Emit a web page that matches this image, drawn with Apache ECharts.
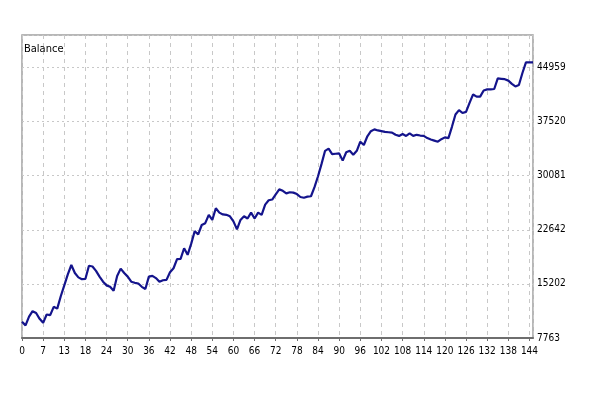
<!DOCTYPE html>
<html>
<head>
<meta charset="utf-8">
<script src="https://cdn.jsdelivr.net/npm/echarts@6/dist/echarts.min.js"></script>
<style>
html,body{margin:0;padding:0;background:#fff;}
#c{width:600px;height:400px;}
</style>
</head>
<body>
<div id="c"></div>
<script>
var titleText = 'Balance';
var xTickLabels = [0,7,13,18,24,30,36,42,48,54,60,66,72,78,84,90,96,102,108,114,120,126,132,138,144];
var yTickLabels = [7763,15202,22642,30081,37520,44959];
var balance = [
10000,9500,10700,11450,11200,10400,9850,11000,10900,12050,
11800,13500,15000,16500,17800,16700,16100,15850,15900,17700,
17600,17000,16200,15500,15000,14800,14250,16300,17300,16700,
16200,15500,15350,15250,14800,14500,16200,16300,16000,15500,
15700,15750,16800,17350,18600,18650,20100,19200,20700,22450,
22000,23300,23550,24700,24000,25600,25000,24750,24700,24500,
23800,22700,24000,24500,24200,25000,24200,25000,24700,26100,
26700,26800,27500,28200,28000,27650,27800,27750,27550,27150,
27050,27200,27250,28500,30000,31700,33500,33800,33050,33100,
33150,32150,33300,33500,32950,33500,34750,34300,35500,36200,
36450,36300,36200,36100,36050,36000,35700,35550,35800,35550,
35900,35550,35700,35600,35550,35250,35050,34900,34750,35100,
35350,35250,36800,38500,39100,38700,38850,40100,41250,40950,
40950,41800,41950,41950,42000,43450,43400,43350,43150,42700,
42350,42550,44200,45650,45650,45650
];

var yMin = yTickLabels[0];
var yStep = (yTickLabels[yTickLabels.length-1] - yTickLabels[0]) / (yTickLabels.length-1);
var seriesData = balance.map(function(v,i){return [i,v];});
var font = '"Liberation Sans Narrow","DejaVu Sans Condensed","Liberation Sans",sans-serif';

var chart = echarts.init(document.getElementById('c'), null, {renderer:'canvas'});
chart.setOption({
  animation:false,
  backgroundColor:'#ffffff',
  title:{text:titleText,left:24,top:44,padding:0,textStyle:{fontFamily:font,fontSize:11,fontWeight:'normal',color:'#000'}},
  grid:{left:22,right:67,top:35,bottom:62,show:true,borderColor:'#a0a0a0',borderWidth:1.5,backgroundColor:'transparent'},
  xAxis:{
    type:'value',min:0,max:145,interval:6,
    axisLine:{show:true,lineStyle:{color:'#6e6e6e',width:2}},
    axisTick:{show:true,length:3,lineStyle:{color:'#6e6e6e'}},
    axisLabel:{show:true,margin:8,showMaxLabel:false,fontFamily:font,fontSize:10,color:'#000',
      formatter:function(v){var k=Math.round(v/6);return (k<xTickLabels.length && Math.abs(v-k*6)<0.01)?String(xTickLabels[k]):'';}},
    splitLine:{show:true,lineStyle:{color:'#c8c8c8',type:[4,4],width:1}}
  },
  yAxis:{
    type:'value',position:'right',min:yMin,max:49423,interval:yStep,
    axisLine:{show:false},
    axisTick:{show:false},
    axisLabel:{show:true,margin:4,showMaxLabel:false,fontFamily:font,fontSize:10,color:'#000',
      formatter:function(v){var k=Math.round((v-yMin)/yStep);if(k>=0&&k<yTickLabels.length&&Math.abs(v-(yMin+k*yStep))<1)return String(yTickLabels[k]);return '';}},
    splitLine:{show:true,lineStyle:{color:'#c8c8c8',type:[2,3],width:1}}
  },
  series:[{
    type:'line',data:seriesData,showSymbol:false,symbol:'none',
    lineStyle:{color:'#14148c',width:2.2},
    itemStyle:{color:'#14148c'}
  }]
});
</script>
</body>
</html>
